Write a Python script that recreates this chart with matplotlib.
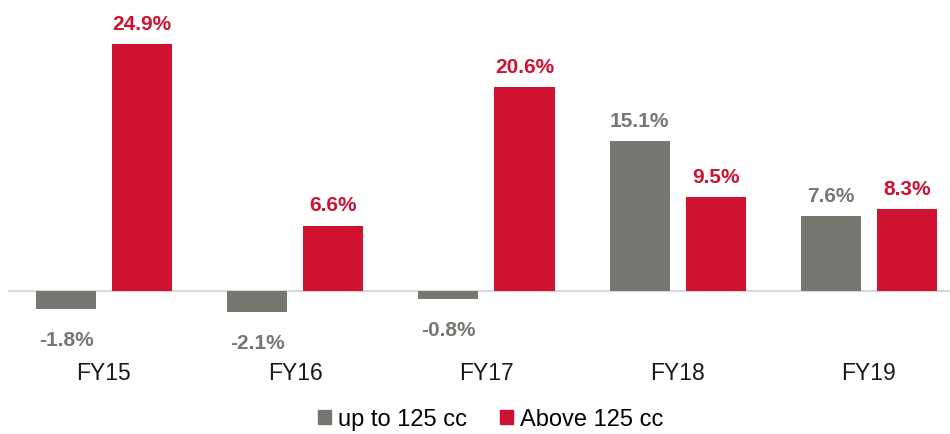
import numpy as np
import matplotlib
matplotlib.use('Agg')
import matplotlib.pyplot as plt
from matplotlib.patches import Patch

# ---- data ----
years = ['FY15', 'FY16', 'FY17', 'FY18', 'FY19']
upto_125 = [-1.8, -2.1, -0.8, 15.1, 7.6]
above_125 = [24.9, 6.6, 20.6, 9.5, 8.3]
series_names = ['up to 125 cc', 'Above 125 cc']

GREY = '#777772'
RED = '#CE1230'

plt.rcParams['font.family'] = ['Liberation Sans', 'DejaVu Sans']

fig = plt.figure(figsize=(9.5, 4.35), dpi=100)
W, H = 950, 435
ax = fig.add_axes([8 / W, (H - 340) / H, 942 / W, 340 / H])

x = np.arange(len(years))
bw = 0.314
off = 0.199

b1 = ax.bar(x - off, upto_125, bw, color=GREY)
b2 = ax.bar(x + off, above_125, bw, color=RED)

# value labels above / below the bars
for bars, vals, col in [(b1, upto_125, GREY), (b2, above_125, RED)]:
    for b, v in zip(bars, vals):
        cx = b.get_x() + b.get_width() / 2
        if v >= 0:
            ax.annotate(f'{v:.1f}%', (cx, v), xytext=(0, 8), textcoords='offset points',
                        ha='center', va='bottom', fontsize=15, fontweight='bold', color=col)
        else:
            ax.annotate(f'{v:.1f}%', (cx, v), xytext=(0, -15), textcoords='offset points',
                        ha='center', va='top', fontsize=15, fontweight='bold', color=col)

ax.axhline(0, color='#d9d9d9', linewidth=1.5, zorder=0)

ax.set_xlim(-0.502, 4.424)
ax.set_ylim(-4.84, 29.44)
ax.set_xticks(x)
ax.set_xticklabels(years, fontsize=16.5, color='#1a1a1a')
ax.tick_params(axis='x', length=0, pad=16)
ax.set_yticks([])
for s in ax.spines.values():
    s.set_visible(False)

handles = [Patch(color=GREY), Patch(color=RED)]
fig.legend(handles, series_names, loc='center', bbox_to_anchor=(491 / W, 1 - 420 / H),
           ncol=2, frameon=False, fontsize=17, handlelength=0.55, handleheight=0.55,
           handletextpad=0.3, columnspacing=1.4)

fig.savefig('out.png', dpi=100)
